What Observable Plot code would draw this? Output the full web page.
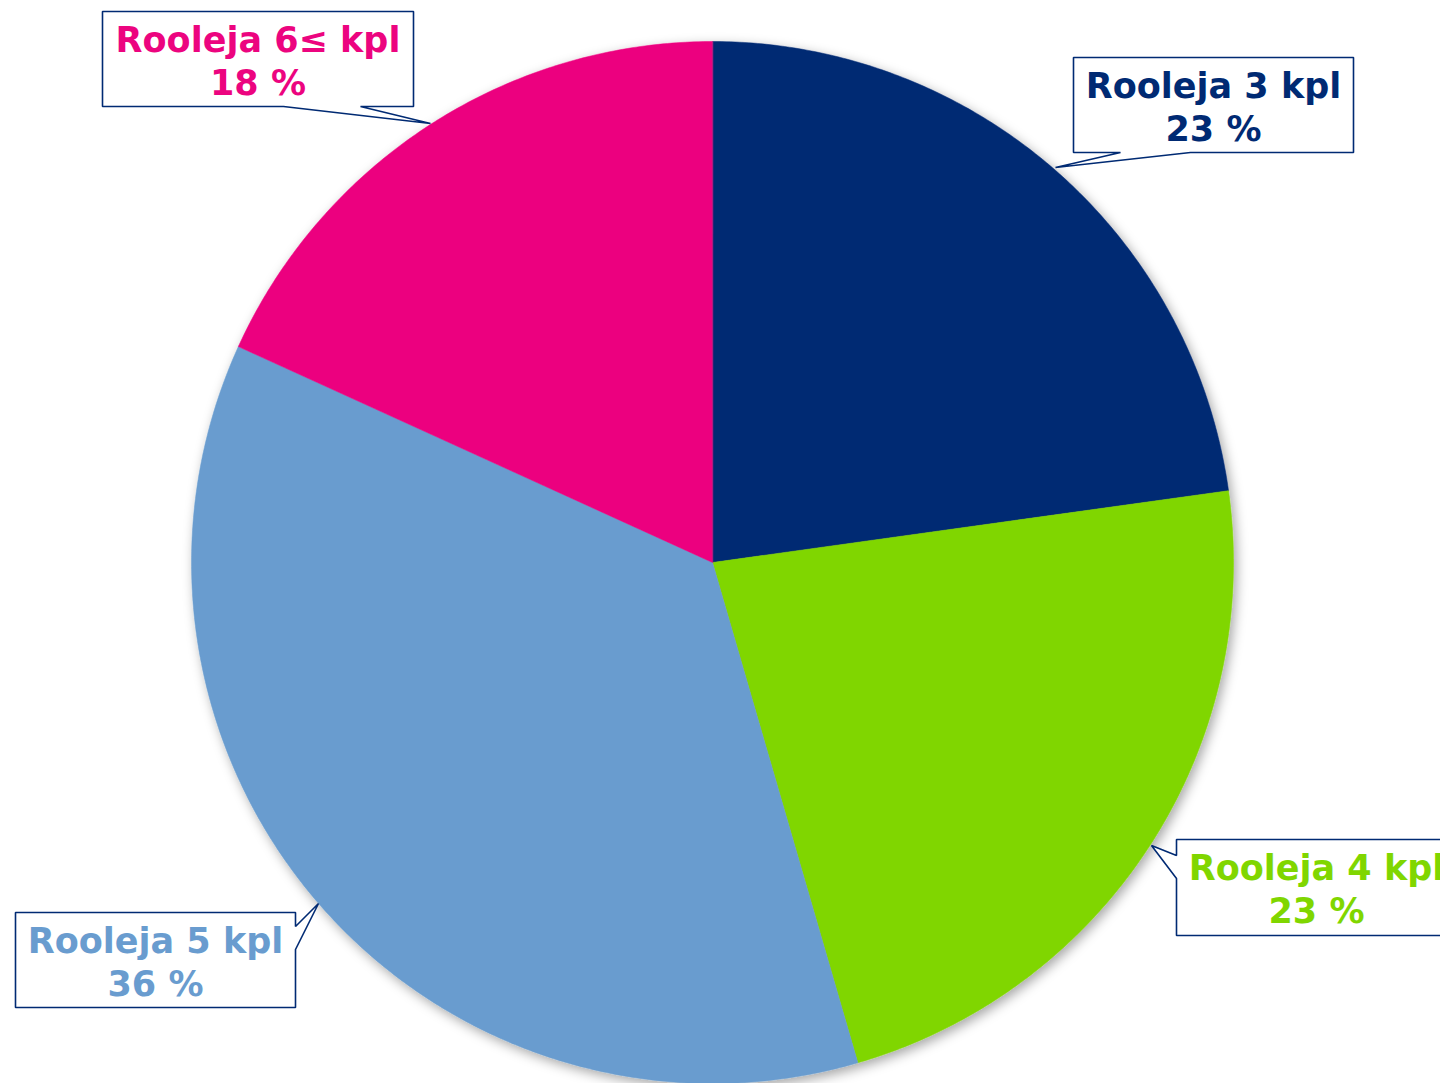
<!DOCTYPE html>
<html>
<head>
<meta charset="utf-8">
<script src="https://cdn.jsdelivr.net/npm/d3@7"></script>
<script src="https://cdn.jsdelivr.net/npm/@observablehq/plot@0.6"></script>
<style>
  html, body { margin: 0; padding: 0; background: #ffffff; }
  #chart { width: 1440px; height: 1083px; overflow: hidden; }
</style>
</head>
<body>
<div id="chart"></div>
<script>
// ---- data ----
const categories = ["Rooleja 3 kpl", "Rooleja 4 kpl", "Rooleja 5 kpl", "Rooleja 6≤ kpl"];
const values = [22.8, 22.7, 36.3, 18.2];
const percentLabels = ["23 %", "23 %", "36 %", "18 %"];
const colors = ["#002A73", "#80D600", "#699CCF", "#EC047F"];

// ---- layout (pixels) ----
const W = 1440, H = 1083;
const cx = 712, cy = 562, R = 521;
const navy = "#002A73";
// callout boxes: [x0, x1, y0, y1], tail side, tail base span, tail tip
const callouts = [
  {box: [1073, 1353, 57, 152], side: "bottom", a: 1120, b: 1190, tip: [1055, 167]},
  {box: [1176, 1456, 839, 935], side: "left", a: 855, b: 878, tip: [1151, 845]},
  {box: [15, 295, 912, 1007], side: "right", a: 926, b: 949, tip: [318, 903]},
  {box: [102, 413, 11, 106], side: "bottom", a: 283, b: 360, tip: [430, 123]}
];

// ---- pie geometry from values ----
const pie = d3.pie().sort(null).startAngle(0).endAngle(2 * Math.PI)(values);
const slicePts = [];
pie.forEach((s, i) => {
  const key = categories[i];
  slicePts.push({key, x: cx, y: cy});
  const n = Math.max(2, Math.ceil((s.endAngle - s.startAngle) / (Math.PI / 360)));
  for (let k = 0; k <= n; k++) {
    const a = s.startAngle + (s.endAngle - s.startAngle) * k / n;
    slicePts.push({key, x: cx + R * Math.sin(a), y: cy - R * Math.cos(a)});
  }
});

// ---- callout shapes ----
const calloutPts = [];
callouts.forEach((c, i) => {
  const [x0, x1, y0, y1] = c.box;
  const p = [];
  p.push([x0, y0], [x1, y0]);
  if (c.side === "right") p.push([x1, c.a], c.tip, [x1, c.b]);
  p.push([x1, y1]);
  if (c.side === "bottom") p.push([c.b, y1], c.tip, [c.a, y1]);
  p.push([x0, y1]);
  if (c.side === "left") p.push([x0, c.b], c.tip, [x0, c.a]);
  p.forEach(([x, y]) => calloutPts.push({id: i, x, y}));
});

const labelRows = categories.map((cat, i) => {
  const [x0, x1, y0] = callouts[i].box;
  return {cat, pct: percentLabels[i], x: (x0 + x1) / 2, y1: y0 + 40, y2: y0 + 83};
});

const font = "DejaVu Sans, Verdana, sans-serif";
const chart = Plot.plot({
  width: W,
  height: H,
  margin: 0,
  x: {domain: [0, W], range: [0, W], axis: null},
  y: {domain: [0, H], range: [0, H], axis: null},
  color: {domain: categories, range: colors},
  style: {background: "#ffffff", fontFamily: font},
  marks: [
    Plot.line(slicePts, {x: "x", y: "y", z: "key", fill: "key", stroke: "key", strokeWidth: 0.5, curve: "linear-closed"}),
    Plot.line(calloutPts, {x: "x", y: "y", z: "id", fill: "white", stroke: navy, strokeWidth: 1.6, curve: "linear-closed", strokeLinejoin: "miter"}),
    Plot.text(labelRows, {x: "x", y: "y1", text: "cat", fill: "cat", fontSize: 35, fontWeight: "bold", textAnchor: "middle", lineAnchor: "bottom", fontFamily: font}),
    Plot.text(labelRows, {x: "x", y: "y2", text: "pct", fill: "cat", fontSize: 35, fontWeight: "bold", textAnchor: "middle", lineAnchor: "bottom", fontFamily: font})
  ]
});
const pieG = chart.querySelector('g[aria-label="line"]');
if (pieG) {
  const ns = "http://www.w3.org/2000/svg";
  const defs = document.createElementNS(ns, "defs");
  defs.innerHTML = '<filter id="pieShadow" x="-10%" y="-10%" width="120%" height="120%"><feDropShadow dx="3" dy="4" stdDeviation="6" flood-color="#000" flood-opacity="0.35"/></filter>';
  chart.insertBefore(defs, chart.firstChild);
  pieG.setAttribute("filter", "url(#pieShadow)");
}
document.getElementById("chart").appendChild(chart);
</script>
</body>
</html>
